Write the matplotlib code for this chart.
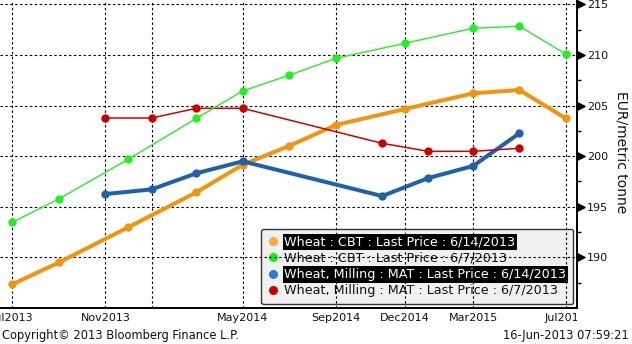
import matplotlib
matplotlib.use('Agg')
import matplotlib.pyplot as plt
import matplotlib.dates as mdates
import pandas as pd
from matplotlib.lines import Line2D
from matplotlib.path import Path
from matplotlib.transforms import Bbox, TransformedBbox, blended_transform_factory

# CBT wheat curve (EUR/metric tonne), contract months
cbt_dates = ['2013-07-01', '2013-09-01', '2013-12-01', '2014-03-01', '2014-05-01', '2014-07-01',
             '2014-09-01', '2014-12-01', '2015-03-01', '2015-05-01', '2015-07-01']
cbt_0614 = [187.33, 189.51, 192.97, 196.43, 199.15, 201.00, 203.08, 204.66, 206.21, 206.54, 203.74]
cbt_0607 = [193.46, 195.79, 199.69, 203.74, 206.44, 207.99, 209.67, 211.15, 212.64, 212.84, 210.10]

# MATIF milling wheat curve
mat_dates = ['2013-11-01', '2014-01-01', '2014-03-01', '2014-05-01',
             '2014-11-01', '2015-01-01', '2015-03-01', '2015-05-01']
mat_0614 = [196.26, 196.72, 198.31, 199.49, 196.06, 197.84, 199.03, 202.26]
mat_0607 = [203.77, 203.77, 204.73, 204.73, 201.27, 200.48, 200.48, 200.78]

labels = ['Wheat : CBT : Last Price : 6/14/2013',
          'Wheat : CBT : Last Price : 6/7/2013',
          'Wheat, Milling : MAT : Last Price : 6/14/2013',
          'Wheat, Milling : MAT : Last Price : 6/7/2013']

tick_dates = ['2013-07-01', '2013-11-01', '2014-01-01', '2014-05-01',
              '2014-09-01', '2014-12-01', '2015-03-01', '2015-07-01']
tick_labels = ['Jul2013', 'Nov2013', '', 'May2014', 'Sep2014', 'Dec2014', 'Mar2015', 'Jul2015']
y_ticks = [190, 195, 200, 205, 210, 215]

plt.rcParams['font.family'] = ['DejaVu Sans']

fig = plt.figure(figsize=(6.32, 3.44), dpi=100)
ax = fig.add_axes([0, 36 / 344, 577 / 632, 308 / 344])

cbt_x = pd.to_datetime(cbt_dates)
mat_x = pd.to_datetime(mat_dates)

ax.plot(cbt_x, cbt_0614, color='#F29410', lw=2.9, marker='o', ms=6, mec='none', zorder=3)
ax.plot(mat_x, mat_0614, color='#1E62AC', lw=2.9, marker='o', ms=6, mec='none', zorder=4)
ax.plot(mat_x, mat_0607, color='#D00000', lw=1.1, marker='o', ms=6, mec='none', zorder=5)
ax.plot(cbt_x, cbt_0607, color='#22F022', lw=1.0, marker='o', ms=6, mec='none', zorder=6)

ax.set_xlim(pd.Timestamp('2013-06-15'), pd.Timestamp('2015-07-16'))
ax.set_ylim(185, 215.43)

ax.set_xticks(pd.to_datetime(tick_dates))
ax.set_xticklabels(tick_labels)
ax.tick_params(axis='x', length=0, pad=3.5, labelsize=8, labelcolor='#111111')

ax.yaxis.tick_right()
ax.set_yticks(y_ticks)
ax.set_yticks([187.5, 192.5, 197.5, 202.5, 207.5, 212.5], minor=True)
ax.tick_params(axis='y', which='major', length=0, pad=7, labelsize=8, labelcolor='#111111')
ax.tick_params(axis='y', which='minor', length=3, width=1, direction='out', color='black')

# triangle tick markers on the right axis
tri = Path([(0, -0.5), (1, 0), (0, 0.5), (0, -0.5)],
           [Path.MOVETO, Path.LINETO, Path.LINETO, Path.CLOSEPOLY])
ax.plot([1] * len(y_ticks), y_ticks, linestyle='none', marker=tri, ms=11, color='black',
        transform=blended_transform_factory(ax.transAxes, ax.transData), clip_on=False, zorder=7)

ax.grid(True, color='black', linestyle=(0, (2.2, 2.2)), linewidth=0.8)
ax.set_axisbelow(False)

for side in ['left', 'top']:
    ax.spines[side].set_visible(False)
for side in ['right', 'bottom']:
    ax.spines[side].set_linewidth(1.4)

# clip x labels at the plot's right edge
clip = TransformedBbox(Bbox([[0, 0], [1, 1]]), blended_transform_factory(ax.transAxes, fig.transFigure))
for lab in ax.get_xticklabels():
    lab.set_clip_box(clip)
    lab.set_clip_on(True)

handles = [Line2D([], [], linestyle='none', marker='o', ms=6.5, mec='none', color=c)
           for c in ['#FFA838', '#11EE11', '#2A7AD8', '#CC0000']]
leg = ax.legend(handles, labels, loc='lower right', bbox_to_anchor=(0.9936, 0.012),
                borderaxespad=0, fontsize=9.2, handlelength=0.8, handletextpad=0.45,
                labelspacing=0.25, borderpad=0.55, fancybox=True, framealpha=1)
leg.get_frame().set_facecolor('#F0F0F0')
leg.get_frame().set_edgecolor('#333333')
leg.get_frame().set_linewidth(1)
leg.set_zorder(1)
for i, t in enumerate(leg.get_texts()):
    if i in (0, 2):
        t.set_color('white')
        t.set_bbox(dict(facecolor='black', edgecolor='none', pad=1.2))
    else:
        t.set_color('#111111')

fig.text(622 / 632, 1 - 152 / 344, 'EUR/metric tonne', rotation=270, ha='center', va='center',
         fontsize=10, color='#111111')
fig.text(2 / 632, 1 - 336 / 344, 'Copyright\u00a9 2013 Bloomberg Finance L.P.', ha='left', va='center',
         fontsize=8.3, color='#111111')
fig.text(629 / 632, 1 - 336 / 344, '16-Jun-2013 07:59:21', ha='right', va='center',
         fontsize=8.3, color='#111111')

fig.savefig('out.png', dpi=100)
